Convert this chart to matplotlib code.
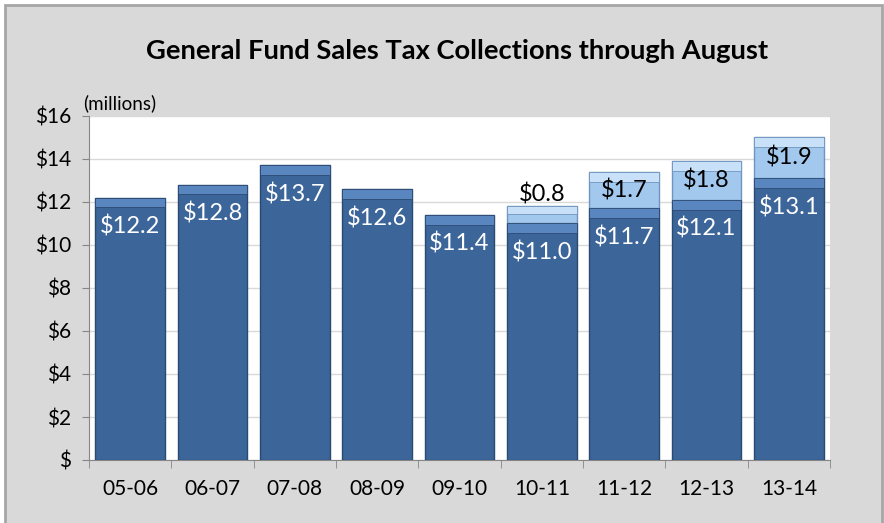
import matplotlib.pyplot as plt
import numpy as np
from matplotlib.patches import Rectangle

# data (millions)
years = ['05-06', '06-07', '07-08', '08-09', '09-10', '10-11', '11-12', '12-13', '13-14']
base = [12.2, 12.8, 13.7, 12.6, 11.4, 11.0, 11.7, 12.1, 13.1]
extra = [0, 0, 0, 0, 0, 0.8, 1.7, 1.8, 1.9]
yticks = [0, 2, 4, 6, 8, 10, 12, 14, 16]
ylabels = ['$', '$2', '$4', '$6', '$8', '$10', '$12', '$14', '$16']

plt.rcParams['font.family'] = ['Lato', 'DejaVu Sans']

fig = plt.figure(figsize=(8.84, 5.23), dpi=100)
fig.patch.set_facecolor('white')
# gray chart area with border
fig.patches.append(Rectangle((5/884, -0.01), 877/884, 1 - 5/523 + 0.01, transform=fig.transFigure,
                             facecolor='#d9d9d9', edgecolor='#a6a6a6', lw=2, zorder=-10))

ax = fig.add_axes([89/884, 1 - 460/523, 741/884, 344/523])
ax.set_facecolor('white')

x = np.arange(len(years))
w = 0.85
dark = '#3c6599'
dark_edge = '#2b4a72'
light = '#a3c8ee'
light_edge = '#6f94bd'
bev = 0.45

ax.bar(x, base, w, color=dark, edgecolor=dark_edge, lw=1, zorder=3)
# top bevel of dark bars
ax.bar(x, bev, w, bottom=np.array(base) - bev, color='#5a86bf', edgecolor=dark_edge, lw=0.6, zorder=4)

ex = np.array(extra)
has = ex > 0
ax.bar(x[has], ex[has], w, bottom=np.array(base)[has], color=light, edgecolor=light_edge, lw=1, zorder=3)
top_b = np.minimum(bev, ex[has] * 0.45)
ax.bar(x[has], top_b, w, bottom=np.array(base)[has] + ex[has] - top_b,
       color='#c9e1f8', edgecolor=light_edge, lw=0.6, zorder=4)

for i in range(len(years)):
    ax.text(x[i], base[i] - 1.35, '${:.1f}'.format(base[i]), ha='center', va='center',
            color='white', fontsize=17, zorder=6)
    if extra[i] > 0:
        if extra[i] < 1:
            ax.text(x[i], base[i] + extra[i] + 0.55, '${:.1f}'.format(extra[i]), ha='center',
                    va='center', color='black', fontsize=17, zorder=6)
        else:
            ax.text(x[i], base[i] + extra[i] / 2, '${:.1f}'.format(extra[i]), ha='center',
                    va='center', color='black', fontsize=17, zorder=6)

ax.set_xlim(-0.5, len(years) - 0.5)
ax.set_ylim(0, 16)
ax.set_yticks(yticks)
ax.set_yticklabels(ylabels, fontsize=15)
ax.set_xticks(x)
ax.set_xticklabels(years, fontsize=15)
ax.set_xticks(np.arange(-0.5, len(years), 1), minor=True)
ax.tick_params(axis='x', which='major', length=0, pad=14)
ax.tick_params(axis='x', which='minor', length=6, color='#868686')
ax.tick_params(axis='y', length=5, color='#868686', pad=8)
ax.yaxis.grid(True, color='#d9d9d9', lw=1, zorder=0)
ax.set_axisbelow(True)
for s in ['top', 'right']:
    ax.spines[s].set_visible(False)
for s in ['left', 'bottom']:
    ax.spines[s].set_color('#868686')

fig.text(457/884, 1 - 51/523, 'General Fund Sales Tax Collections through August', ha='center',
         va='center', fontsize=19.7, fontweight='bold')
fig.text(83/884, 1 - 103/523, '(millions)', ha='left', va='center', fontsize=13.5)

fig.savefig('out.png', dpi=100)
